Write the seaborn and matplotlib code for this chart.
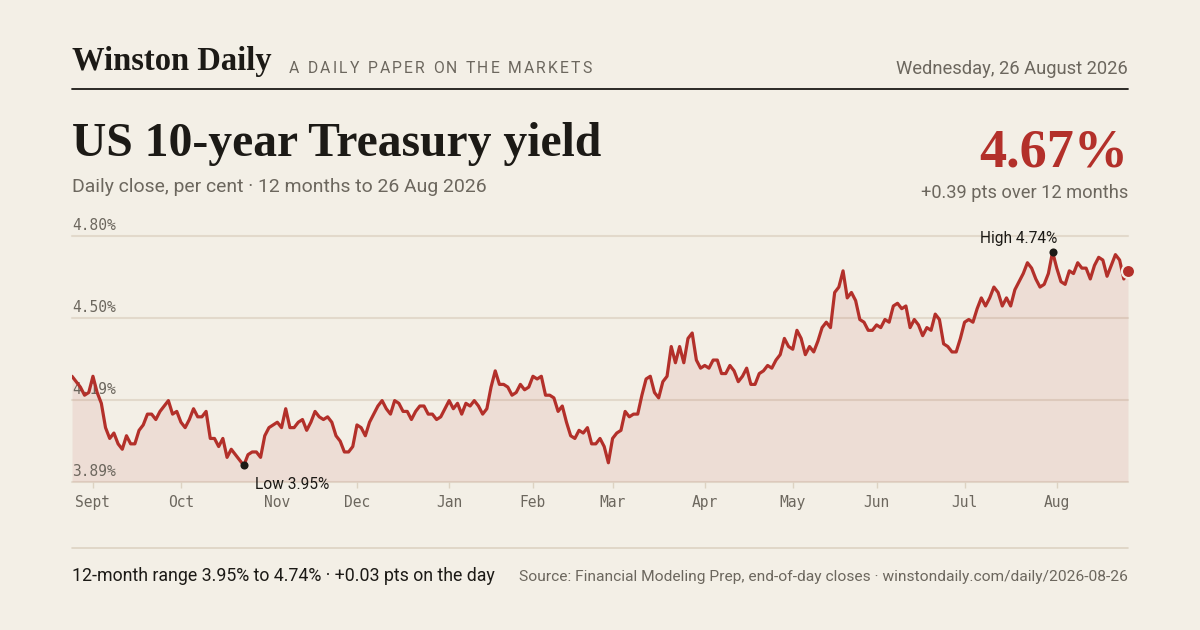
import numpy as np
import pandas as pd
import seaborn as sns
import matplotlib.pyplot as plt
from matplotlib.lines import Line2D

# --- data: daily closes of the US 10-year yield, 25 Aug 2025 to 26 Aug 2026 ---
START = "2025-08-25"
END = "2026-08-26"
HOLIDAYS = [
    "2025-09-01", "2025-11-27", "2025-12-25", "2026-01-01", "2026-01-19",
    "2026-02-16", "2026-04-03", "2026-05-25", "2026-06-19", "2026-07-03",
]
yields = [
    4.28, 4.26, 4.24, 4.21, 4.22, 4.28, 4.22, 4.18, 4.09, 4.05,
    4.07, 4.03, 4.01, 4.06, 4.03, 4.03, 4.08, 4.10, 4.14, 4.14,
    4.12, 4.15, 4.17, 4.19, 4.14, 4.15, 4.11, 4.09, 4.12, 4.16,
    4.13, 4.13, 4.15, 4.05, 4.05, 4.02, 4.05, 3.98, 4.01, 3.99,
    3.97, 3.95, 3.99, 4.00, 4.00, 3.98, 4.06, 4.09, 4.10, 4.11,
    4.09, 4.16, 4.09, 4.09, 4.11, 4.12, 4.08, 4.11, 4.15, 4.13,
    4.12, 4.13, 4.11, 4.06, 4.04, 4.00, 4.00, 4.02, 4.10, 4.09,
    4.06, 4.11, 4.14, 4.17, 4.19, 4.16, 4.14, 4.19, 4.18, 4.15,
    4.15, 4.12, 4.15, 4.17, 4.17, 4.14, 4.14, 4.12, 4.13, 4.16,
    4.19, 4.16, 4.18, 4.14, 4.18, 4.17, 4.19, 4.17, 4.14, 4.16,
    4.24, 4.30, 4.25, 4.25, 4.24, 4.21, 4.22, 4.25, 4.23, 4.24,
    4.28, 4.27, 4.28, 4.21, 4.21, 4.20, 4.15, 4.17, 4.11, 4.06,
    4.05, 4.08, 4.07, 4.09, 4.03, 4.03, 4.05, 4.02, 3.96, 4.05,
    4.07, 4.08, 4.15, 4.13, 4.14, 4.14, 4.21, 4.27, 4.28, 4.22,
    4.20, 4.26, 4.28, 4.39, 4.33, 4.39, 4.33, 4.42, 4.44, 4.34,
    4.31, 4.32, 4.31, 4.34, 4.34, 4.29, 4.29, 4.32, 4.30, 4.26,
    4.28, 4.31, 4.25, 4.25, 4.29, 4.30, 4.32, 4.31, 4.34, 4.36,
    4.42, 4.39, 4.38, 4.45, 4.42, 4.36, 4.39, 4.37, 4.41, 4.46,
    4.48, 4.46, 4.59, 4.61, 4.67, 4.57, 4.59, 4.56, 4.49, 4.48,
    4.45, 4.45, 4.47, 4.46, 4.49, 4.48, 4.54, 4.55, 4.53, 4.54,
    4.46, 4.49, 4.47, 4.43, 4.46, 4.45, 4.51, 4.49, 4.40, 4.39,
    4.37, 4.37, 4.42, 4.48, 4.49, 4.48, 4.53, 4.57, 4.54, 4.57,
    4.61, 4.59, 4.54, 4.57, 4.54, 4.60, 4.63, 4.66, 4.70, 4.68,
    4.64, 4.61, 4.62, 4.66, 4.74, 4.68, 4.63, 4.62, 4.67, 4.66,
    4.70, 4.68, 4.68, 4.64, 4.69, 4.72, 4.71, 4.65, 4.69, 4.73,
    4.71, 4.64, 4.67,
]
month_labels = ["Sept", "Oct", "Nov", "Dec", "Jan", "Feb", "Mar",
                "Apr", "May", "Jun", "Jul", "Aug"]
y_ticks = [3.89, 4.19333, 4.49667, 4.80]

# --- colours and fonts ---
BG = "#f3efe6"
RED = "#b3302a"
DARK = "#1c1a16"
GREY = "#6c675e"
GRID = "#e2d9cb"
RULE = "#ddd3c2"
SERIF = ["Liberation Serif", "DejaVu Serif"]
SANS = ["Roboto", "DejaVu Sans"]
MONO = ["DejaVu Sans Mono"]

sns.set_style("white")
plt.rcParams["font.family"] = SANS

dates = pd.bdate_range(START, END, freq="C", holidays=HOLIDAYS)
n = min(len(dates), len(yields))
df = pd.DataFrame({"pos": np.arange(n), "date": dates[:n], "yield": yields[:n]})

W, H = 1200, 630
fig = plt.figure(figsize=(12, 6.3), dpi=100, facecolor=BG)
ax = fig.add_axes([72 / W, 1 - 481.7 / H, 1056 / W, (481.7 - 235.7) / H])
ax.patch.set_alpha(0)

y0, y1 = y_ticks[0], y_ticks[-1]
for t in y_ticks:
    ax.axhline(t, color=GRID, lw=1.5, zorder=0, clip_on=False)
    ax.annotate(f"{t:.2f}%", xy=(0, t), xycoords=("axes fraction", "data"),
                xytext=(0, 6), textcoords="offset pixels", ha="left", va="baseline",
                family=MONO, fontsize=10.5, color=GREY, zorder=2)

ax.fill_between(df["pos"], df["yield"], y0, color=RED, alpha=0.09, lw=0, zorder=1)
sns.lineplot(data=df, x="pos", y="yield", ax=ax, color=RED, lw=2.3, zorder=3)

ax.set_xlim(0, n - 1)
ax.set_ylim(y0, y1)
ax.set_yticks([])
ax.set_xlabel("")
ax.set_ylabel("")
for s in ax.spines.values():
    s.set_visible(False)

# month ticks at the first trading day of each month
firsts = df.groupby(df["date"].dt.to_period("M"))["pos"].min().iloc[1:]
ax.set_xticks(firsts.values)
ax.set_xticklabels(month_labels[:len(firsts)], family=MONO)
ax.tick_params(axis="x", length=4.3, width=1, color=RULE, pad=5,
               labelsize=10.5, labelcolor=GREY, direction="out", bottom=True)

# low / high / last
lo, hi = df["yield"].idxmin(), df["yield"].idxmax()
ax.scatter([lo, hi], [df["yield"][lo], df["yield"][hi]], s=34, color=DARK,
           zorder=5, clip_on=False, linewidths=0)
ax.annotate(f"Low {df['yield'][lo]:.2f}%", xy=(lo, df["yield"][lo]), xytext=(11, -19),
            textcoords="offset pixels", ha="left", va="center", fontsize=11.2,
            color=DARK, zorder=6, annotation_clip=False)
ax.annotate(f"High {df['yield'][hi]:.2f}%", xy=(hi, df["yield"][hi]), xytext=(5, 9),
            textcoords="offset pixels", ha="right", va="baseline", fontsize=11.2,
            color=DARK, zorder=6, annotation_clip=False)
last = n - 1
ax.scatter([last], [df["yield"][last]], s=90, color=RED, edgecolors=BG,
           linewidths=1.6, zorder=6, clip_on=False)

# --- header / footer text ---
renderer = fig.canvas.get_renderer()


def text_width(s, **kw):
    t = fig.text(0, 0, s, **kw)
    w = t.get_window_extent(renderer).width
    t.remove()
    return w


def put(px, py, s, width=None, **kw):
    t = fig.text(px / W, 1 - py / H, s, va="baseline", **kw)
    if width:
        w = t.get_window_extent(renderer).width
        t.set_fontsize(t.get_fontsize() * width / w)
    return t


def put_tracked(px, py, s, width, **kw):
    # letter-spaced caps: place each character, spread to the target width
    bar = text_width("|", **kw)
    natural = text_width(s, **kw)
    extra = (width - natural) / (len(s) - 1)
    for i, c in enumerate(s):
        if c == " ":
            continue
        x = text_width(s[:i] + "|", **kw) - bar if i else 0
        fig.text((px + x + i * extra) / W, 1 - py / H, c, va="baseline", **kw)


put(72, 70, "Winston Daily", width=200, family=SERIF, weight="bold", fontsize=22, color=DARK)
put_tracked(289, 73, "A DAILY PAPER ON THE MARKETS", 303, fontsize=11.3, color=GREY)
put(1128, 73.5, "Wednesday, 26 August 2026", width=232, ha="right", fontsize=13, color=GREY)
fig.add_artist(Line2D([72 / W, 1128 / W], [1 - 89 / H] * 2, color=DARK, lw=1.3))

put(72, 156.5, "US 10-year Treasury yield", width=531, family=SERIF, weight="bold",
    fontsize=34, color=DARK)
put(72, 191.5, "Daily close, per cent \u00b7 12 months to 26 Aug 2026", width=415,
    fontsize=13.5, color=GREY)
put(1128, 166.5, f"{df['yield'][last]:.2f}%", width=149, ha="right", family=SERIF,
    weight="bold", fontsize=40, color=RED)
chg = df["yield"][last] - df["yield"][0]
put(1128, 198.5, f"{chg:+.2f} pts over 12 months", width=207, ha="right",
    fontsize=13.5, color=GREY)

fig.add_artist(Line2D([72 / W, 1128 / W], [1 - 548 / H] * 2, color=RULE, lw=1.2))
day = df["yield"][last] - df["yield"][last - 1]
put(72, 581, f"12-month range {df['yield'][lo]:.2f}% to {df['yield'][hi]:.2f}% \u00b7 "
    f"{day:+.2f} pts on the day", width=423, fontsize=12, color=DARK)
put(1128, 581, "Source: Financial Modeling Prep, end-of-day closes \u00b7 "
    "winstondaily.com/daily/2026-08-26", width=602, ha="right", fontsize=11, color=GREY)

fig.savefig("out.png", dpi=100, facecolor=BG)
